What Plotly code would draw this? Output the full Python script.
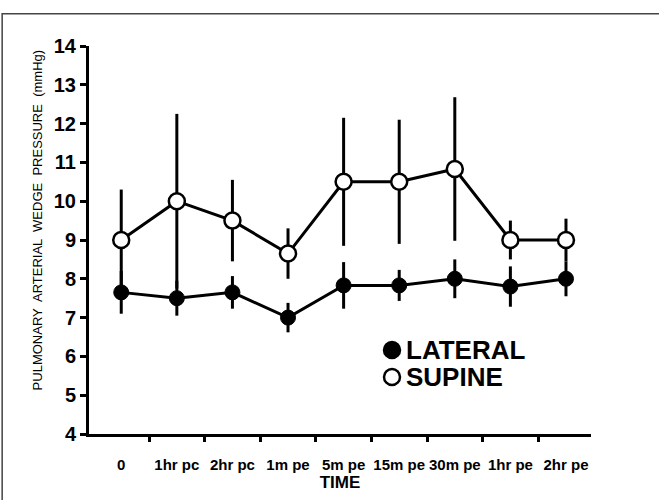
import plotly.graph_objects as go

categories = ["0", "1hr pc", "2hr pc", "1m pe", "5m pe", "15m pe", "30m pe", "1hr pe", "2hr pe"]
lateral_mean = [7.65, 7.5, 7.65, 7.0, 7.83, 7.83, 8.0, 7.8, 8.0]
lateral_sd = [0.55, 0.45, 0.42, 0.38, 0.6, 0.4, 0.5, 0.52, 0.45]
supine_mean = [9.0, 10.0, 9.5, 8.65, 10.5, 10.5, 10.83, 9.0, 9.0]
supine_sd = [1.3, 2.25, 1.05, 0.65, 1.65, 1.6, 1.85, 0.5, 0.55]
y_ticks = [4, 5, 6, 7, 8, 9, 10, 11, 12, 13, 14]
legend_names = ["LATERAL", "SUPINE"]

xi = list(range(len(categories)))
FONT = "Liberation Sans, Arial, sans-serif"

fig = go.Figure()
err_style = dict(type="data", thickness=3, width=0, color="black")

fig.add_trace(go.Scatter(
    x=xi, y=lateral_mean, mode="lines+markers", name=legend_names[0],
    error_y=dict(array=lateral_sd, **err_style),
    line=dict(color="black", width=3),
    marker=dict(symbol="circle", size=15, color="black", line=dict(color="black", width=1)),
    showlegend=False, cliponaxis=False))
fig.add_trace(go.Scatter(
    x=xi, y=supine_mean, mode="lines+markers", name=legend_names[1],
    error_y=dict(array=supine_sd, **err_style),
    line=dict(color="black", width=3),
    marker=dict(symbol="circle", size=16, color="white", line=dict(color="black", width=2.5)),
    showlegend=False, cliponaxis=False))

# helper trace on xaxis2 for category labels
fig.add_trace(go.Scatter(x=xi, y=[None] * len(xi), xaxis="x2", mode="markers",
                         showlegend=False, hoverinfo="skip"))

xr = [-0.58, 8.45]

# legend drawn as annotations + symbol shapes
leg_x_sym = 0.6036
leg_x_txt = 0.627
leg_ys = [0.2165, 0.147]
annotations = [dict(
    text="PULMONARY  ARTERIAL  WEDGE  PRESSURE  (mmHg)",
    xref="paper", yref="paper", x=-0.102, y=0.55, textangle=-90,
    showarrow=False, font=dict(size=13, family=FONT), xanchor="center", yanchor="middle")]
shapes = [dict(type="rect", xref="paper", yref="paper",
               x0=-0.173, x1=1.141, y0=-0.2, y1=1.083,
               line=dict(color="#444444", width=1.5), fillcolor="rgba(0,0,0,0)", layer="below")]
fills = ["black", "white"]
for name, yy, fc in zip(legend_names, leg_ys, fills):
    annotations.append(dict(text="<b>%s</b>" % name, xref="paper", yref="paper",
                            x=leg_x_txt, y=yy, xanchor="left", yanchor="middle",
                            showarrow=False, font=dict(size=26, family=FONT)))
    shapes.append(dict(type="circle", xref="paper", yref="paper",
                       xsizemode="pixel", ysizemode="pixel",
                       xanchor=leg_x_sym, yanchor=yy, x0=-8, x1=8, y0=-8, y1=8,
                       fillcolor=fc, line=dict(color="black", width=2.5)))

fig.update_layout(
    width=659, height=500,
    margin=dict(l=89, r=68, t=46, b=66, autoexpand=False),
    paper_bgcolor="white", plot_bgcolor="white",
    font=dict(family=FONT, color="black"),
    showlegend=False,
    xaxis=dict(range=xr, tickvals=[i + 0.5 for i in range(len(categories) - 1)],
               showticklabels=False, ticks="outside", ticklen=5, tickwidth=3,
               tickcolor="black", showline=True, linewidth=3, linecolor="black",
               showgrid=False, zeroline=False, automargin=False),
    xaxis2=dict(range=xr, overlaying="x", side="bottom", anchor="y",
                tickvals=xi, ticktext=categories, ticks="outside", ticklen=17,
                tickcolor="rgba(0,0,0,0)", showline=False, showgrid=False,
                zeroline=False, automargin=False, tickangle=0,
                tickfont=dict(size=15, family=FONT, weight="bold"),
                title=dict(text="<b>TIME</b>", font=dict(size=17), standoff=4)),
    yaxis=dict(range=[4, 14], tickvals=y_ticks, ticks="outside", ticklen=6, tickwidth=3,
               tickcolor="black", showline=True, linewidth=3, linecolor="black",
               showgrid=False, zeroline=False, automargin=False,
               tickfont=dict(size=20, family=FONT, weight="bold")),
    annotations=annotations,
    shapes=shapes,
)

fig.write_html(
    "out.html",
    config={"displayModeBar": False, "staticPlot": True},
    post_script=("document.body.style.margin='0px';"
                 "document.body.style.overflow='hidden';"
                 "document.documentElement.style.overflow='hidden';"),
)
